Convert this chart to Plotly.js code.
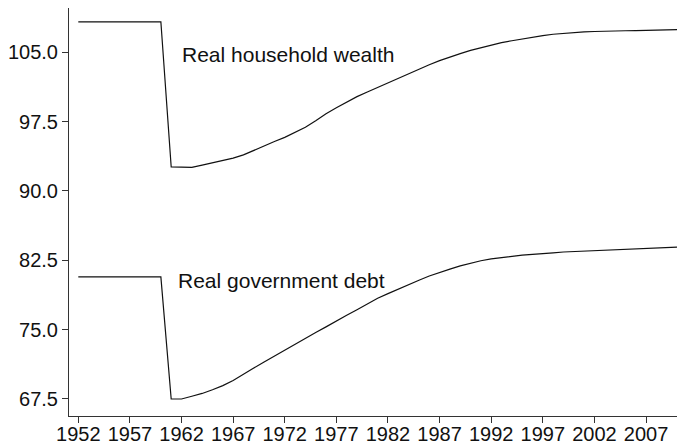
<!DOCTYPE html>
<html>
<head>
<meta charset="utf-8">
<script src="https://cdn.plot.ly/plotly-3.0.1.min.js"></script>
<style>html,body{margin:0;padding:0;background:#fff;}#chart{width:677px;height:448px;}</style>
</head>
<body>
<div id="chart"></div>
<script>
const years = [1952,1953,1954,1955,1956,1957,1958,1959,1960,1961,1962,1963,1964,1965,1966,1967,1968,1969,1970,
  1971,1972,1973,1974,1975,1976,1977,1978,1979,1980,1981,1982,1983,1984,1985,1986,1987,1988,1989,1990,
  1991,1992,1993,1994,1995,1996,1997,1998,1999,2000,2001,2002,2003,2004,2005,2006,2007,2008,2009,2010];

const householdWealth = [108.3,108.3,108.3,108.3,108.3,108.3,108.3,108.3,108.3,
  92.6,92.6,92.55,92.8,93.05,93.3,93.55,93.9,94.4,94.9,
  95.35,95.8,96.35,96.9,97.6,98.35,99.0,99.6,100.2,100.7,101.2,101.7,102.2,102.65,103.15,103.65,104.1,104.5,104.85,105.2,
  105.5,105.8,106.05,106.25,106.45,106.65,106.8,106.95,107.05,107.15,107.2,107.25,107.3,107.3,107.33,107.35,107.37,107.4,107.42,107.45];

const governmentDebt = [80.7,80.7,80.7,80.7,80.7,80.7,80.7,80.7,80.7,
  67.5,67.5,67.8,68.1,68.5,68.95,69.5,70.2,70.85,71.5,
  72.15,72.8,73.45,74.05,74.7,75.3,75.95,76.55,77.15,77.8,78.4,78.9,79.4,79.9,80.35,80.8,81.2,81.55,81.9,82.2,
  82.45,82.65,82.8,82.95,83.05,83.15,83.2,83.3,83.4,83.45,83.5,83.55,83.6,83.65,83.7,83.75,83.8,83.85,83.9,83.92];

const xTicks = [1952,1957,1962,1967,1972,1977,1982,1987,1992,1997,2002,2007];
const yTicks = [67.5,75.0,82.5,90.0,97.5,105.0];
const labels = ["Real household wealth","Real government debt"];

const font = "Liberation Sans, Arial, Helvetica, sans-serif";

const traces = [
  {x: years, y: householdWealth, type: 'scatter', mode: 'lines', line: {color: '#111', width: 1.2}, hoverinfo: 'skip'},
  {x: years, y: governmentDebt, type: 'scatter', mode: 'lines', line: {color: '#111', width: 1.2}, hoverinfo: 'skip'}
];

const layout = {
  width: 677, height: 448,
  margin: {l: 69, r: 0, t: 8, b: 32, pad: 0},
  paper_bgcolor: '#fff', plot_bgcolor: '#fff',
  showlegend: false,
  font: {family: font, size: 20, color: '#111'},
  xaxis: {
    range: [1951.1, 2010.0], tickvals: xTicks, ticktext: xTicks.map(String),
    showgrid: false, zeroline: false, showline: true, linecolor: '#333', linewidth: 1,
    ticks: 'outside', ticklen: 6, tickcolor: '#333', tickwidth: 1, ticklabelstandoff: -6,
    tickfont: {family: font, size: 20, color: '#111'}
  },
  yaxis: {
    range: [65.66, 109.79], tickvals: yTicks, ticktext: yTicks.map(v => v.toFixed(1)),
    showgrid: false, zeroline: false, showline: true, linecolor: '#333', linewidth: 1,
    ticks: 'outside', ticklen: 6, tickcolor: '#333', tickwidth: 1,
    tickfont: {family: font, size: 20, color: '#111'}
  },
  annotations: [
    {x: 1961.85, y: 104.8, xref: 'x', yref: 'y', text: labels[0], showarrow: false,
     xanchor: 'left', yanchor: 'middle', font: {family: font, size: 21, color: '#111'}},
    {x: 1961.43, y: 80.3, xref: 'x', yref: 'y', text: labels[1], showarrow: false,
     xanchor: 'left', yanchor: 'middle', font: {family: font, size: 21, color: '#111'}}
  ]
};

Plotly.newPlot('chart', traces, layout, {staticPlot: true, displayModeBar: false});
</script>
</body>
</html>
